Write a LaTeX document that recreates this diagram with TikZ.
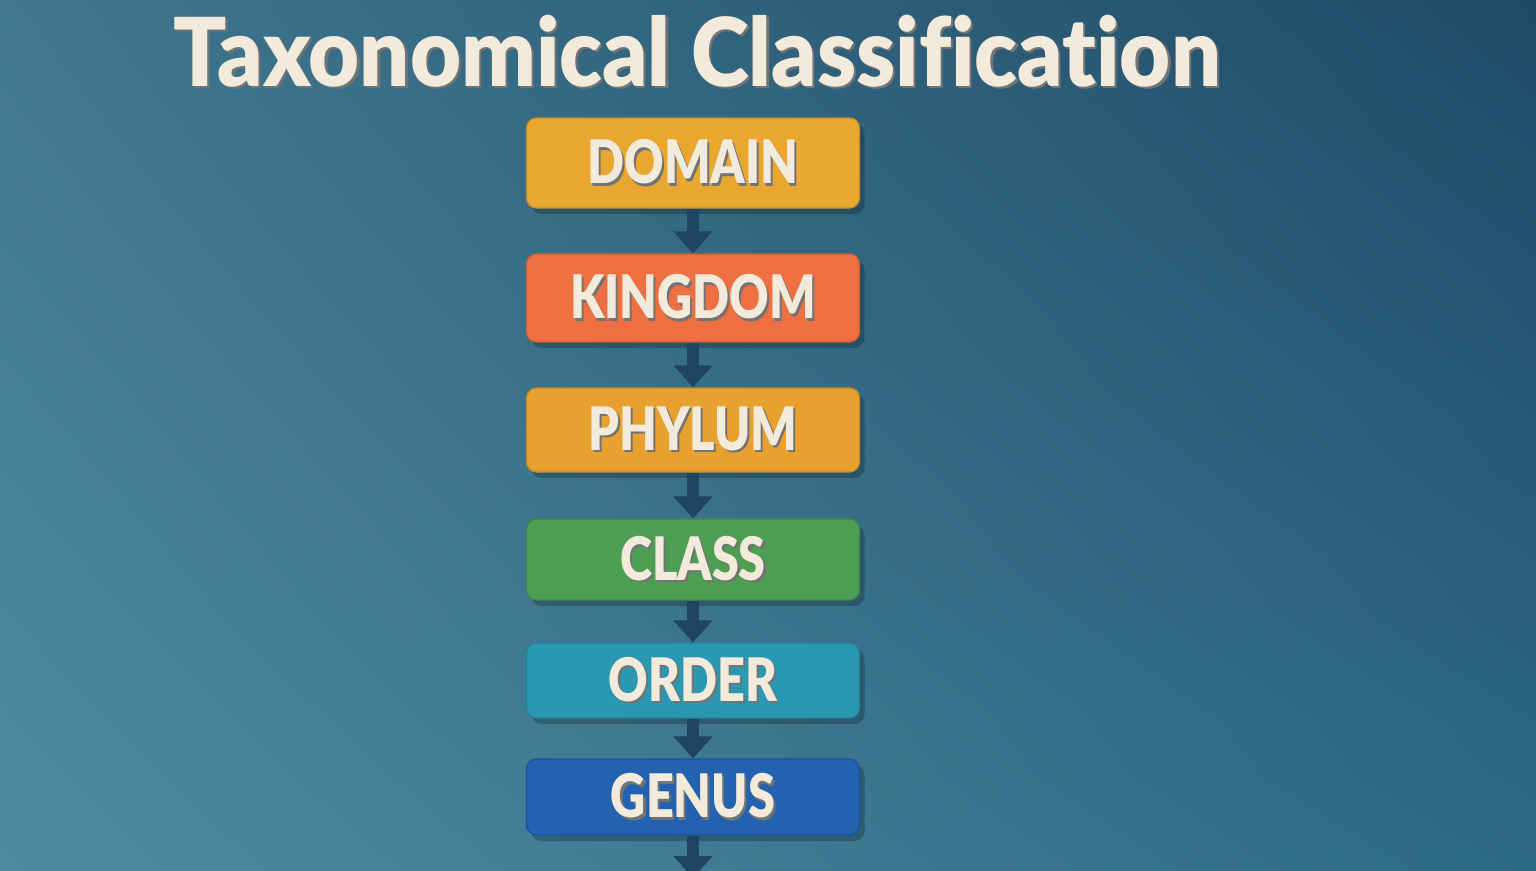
\documentclass[tikz,border=0pt]{standalone}
\usepackage{fontspec}
\setmainfont{Lato}[BoldFont={Lato Black}, Ligatures=NoCommon]
\usepackage{xcolor}
\usepackage{tikz}
\usetikzlibrary{arrows.meta,shadows,shadings}

\definecolor{bgtl}{HTML}{3F7890}
\definecolor{bgtr}{HTML}{1F4A68}
\definecolor{bgbl}{HTML}{4F8AA0}
\definecolor{bgbr}{HTML}{2D6A85}
\definecolor{cream}{HTML}{F2EADA}
\definecolor{arrowblue}{HTML}{1F4562}
\definecolor{domainc}{HTML}{E9A730}
\definecolor{kingdomc}{HTML}{EE7042}
\definecolor{phylumc}{HTML}{E8A02E}
\definecolor{classc}{HTML}{4C9E52}
\definecolor{orderc}{HTML}{2A98B2}
\definecolor{genusc}{HTML}{2262B0}

\newcommand{\ranktext}[2][0.81]{\scalebox{#1}[1]{\makebox[0pt][l]{\raisebox{-2.5pt}{\hspace{2.5pt}\textcolor{black!55}{#2}}}#2}}

\begin{document}
\begin{tikzpicture}[x=1pt,y=-1pt,
  rank/.style={rounded corners=10pt, minimum width=333pt, inner sep=0pt,
    line width=1.2pt, text=cream, font=\fontsize{60}{60}\selectfont\bfseries,
    drop shadow={shadow xshift=5pt,shadow yshift=-6pt,opacity=0.22,fill=black}},
  flow/.style={-{Triangle[width=38pt,length=22pt]}, line width=12pt, draw=arrowblue},
]
\useasboundingbox (0,0) rectangle (1536,870);
\shade[upper left=bgtl, upper right=bgtr, lower left=bgbl, lower right=bgbr] (0,0) rectangle (1536,870);

\node[text=cream, anchor=base, font=\fontsize{95}{95}\selectfont\bfseries] (title) at (697,86) {\ranktext[0.926]{Taxonomical Classification}};

\node[rank, fill=domainc, draw=domainc!85!black, minimum height=90pt] (domain) at (693,163) {\ranktext{DOMAIN}};
\node[rank, fill=kingdomc, draw=kingdomc!85!black, minimum height=88pt] (kingdom) at (693,298) {\ranktext{KINGDOM}};
\node[rank, fill=phylumc, draw=phylumc!85!black, minimum height=84pt] (phylum) at (693,430) {\ranktext{PHYLUM}};
\node[rank, fill=classc, draw=classc!85!black, minimum height=81pt] (class) at (693,559.5) {\ranktext{CLASS}};
\node[rank, fill=orderc, draw=orderc!85!black, minimum height=75pt] (order) at (693,680.5) {\ranktext{ORDER}};
\node[rank, fill=genusc, draw=genusc!85!black, minimum height=76pt] (genus) at (693,797) {\ranktext{GENUS}};
\coordinate (next) at (693,878);

\draw[flow] (domain.south) -- (kingdom.north);
\draw[flow] (kingdom.south) -- (phylum.north);
\draw[flow] (phylum.south) -- (class.north);
\draw[flow] (class.south) -- (order.north);
\draw[flow] (order.south) -- (genus.north);
\draw[flow] (genus.south) -- (next);
\end{tikzpicture}
\end{document}
